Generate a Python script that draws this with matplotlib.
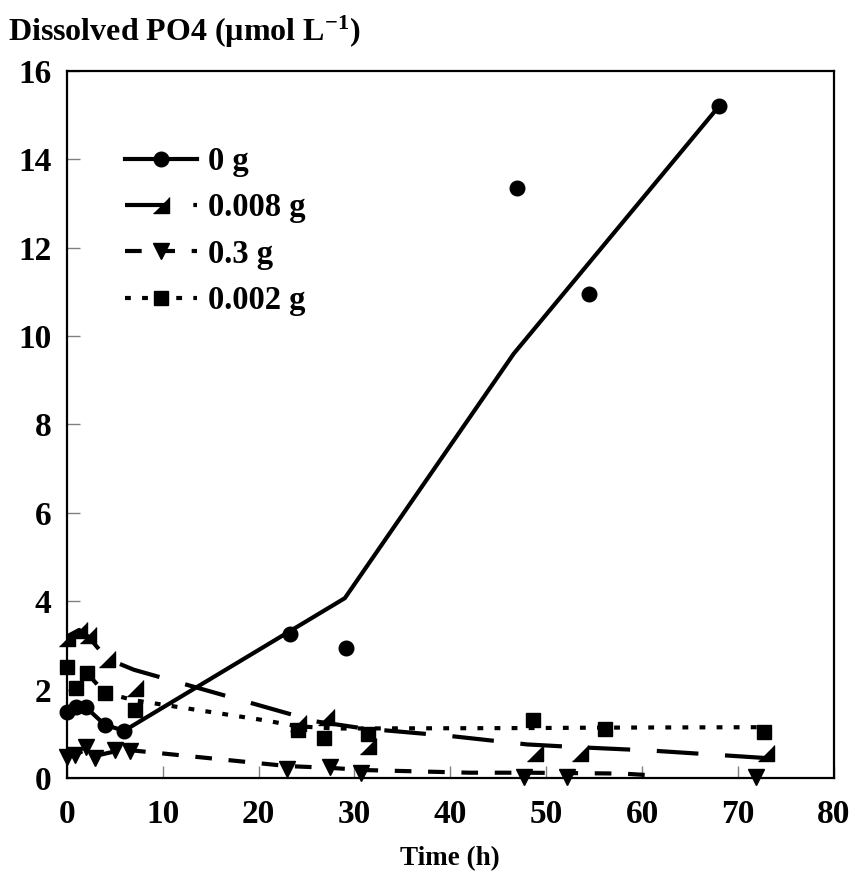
import matplotlib
matplotlib.use("Agg")
import matplotlib.pyplot as plt
from matplotlib.lines import Line2D

plt.rcParams['font.family'] = ['Liberation Serif', 'DejaVu Serif']
plt.rcParams['font.weight'] = 'bold'
plt.rcParams['mathtext.fontset'] = 'custom'
plt.rcParams['mathtext.rm'] = 'Liberation Serif:bold'
plt.rcParams['mathtext.bf'] = 'Liberation Serif:bold'
plt.rcParams['mathtext.default'] = 'rm'

# ---- data ----
series_labels = ["0 g", "0.008 g", "0.3 g", "0.002 g"]

# 0 g
t_0g = [0, 1, 2, 4, 6, 23.3, 29.1, 47, 54.5, 68]
p_0g = [1.5, 1.6, 1.6, 1.2, 1.07, 3.25, 2.95, 13.35, 10.95, 15.2]
line_t_0g = [0, 1, 2, 4, 6, 29.0, 46.6, 68]
line_p_0g = [1.5, 1.6, 1.6, 1.2, 1.07, 4.07, 9.6, 15.2]

# 0.008 g
t_008 = [0, 1.3, 2.25, 4.2, 7.1, 24.1, 27.0, 31.4, 48.8, 53.5, 72.9]
p_008 = [3.16, 3.35, 3.24, 2.69, 2.03, 1.24, 1.39, 0.72, 0.56, 0.56, 0.56]
line_t_008 = [0, 1.3, 2.25, 4.2, 7.0, 26.0, 31.0, 40.0, 48.0, 53.0, 61.0, 73.0]
line_p_008 = [3.2, 3.35, 3.2, 2.7, 2.45, 1.28, 1.12, 0.95, 0.76, 0.7, 0.62, 0.45]

# 0.3 g
t_03 = [0, 0.9, 2.0, 2.95, 5.0, 6.6, 23.0, 27.4, 30.7, 47.7, 52.2, 71.9]
p_03 = [0.48, 0.52, 0.71, 0.45, 0.63, 0.6, 0.2, 0.24, 0.12, 0.03, 0.03, 0.03]
line_t_03 = [0, 0.9, 2.0, 2.95, 5.0, 6.6, 23.0, 27.4, 31.0, 42.0, 48.0, 58.0, 61.0]
line_p_03 = [0.48, 0.52, 0.65, 0.5, 0.6, 0.63, 0.27, 0.23, 0.18, 0.12, 0.12, 0.1, 0.06]

# 0.002 g
t_002 = [0, 1.0, 2.1, 4.0, 7.1, 24.1, 26.8, 31.4, 48.6, 56.1, 72.7]
p_002 = [2.52, 2.03, 2.37, 1.93, 1.54, 1.09, 0.9, 1.0, 1.31, 1.1, 1.05]
line_t_002 = [0, 1.0, 2.1, 4.0, 7.0, 20.5, 24.1, 28.0, 48.0, 56.0, 72.7]
line_p_002 = [2.52, 2.03, 2.37, 1.93, 1.76, 1.31, 1.17, 1.12, 1.13, 1.14, 1.15]

x_ticks = [0, 10, 20, 30, 40, 50, 60, 70, 80]
y_ticks = [0, 2, 4, 6, 8, 10, 12, 14, 16]

# ---- figure ----
fig = plt.figure(figsize=(8.56, 8.8), dpi=100)
ax = fig.add_axes([66.7 / 856, 1 - 778 / 880, (834 - 66.7) / 856, (778 - 71) / 880])

tri = [(-1, -1), (1, -1), (1, 1)]
lw = 3
styles = [
    dict(ls='-', dashes=None, marker='o', ms=10.5),
    dict(ls='--', dashes=(10, 6.4), marker=tri, ms=12),
    dict(ls='--', dashes=(4, 4), marker='v', ms=11),
    dict(ls=':', dashes=(1.4, 2.7), marker='s', ms=10),
]
lines_xy = [(line_t_0g, line_p_0g), (line_t_008, line_p_008),
            (line_t_03, line_p_03), (line_t_002, line_p_002)]
pts_xy = [(t_0g, p_0g), (t_008, p_008), (t_03, p_03), (t_002, p_002)]

handles = []
for (lx, ly), (px, py), st, lab in zip(lines_xy, pts_xy, styles, series_labels):
    kw = dict(color='black', lw=lw, solid_capstyle='butt', dash_capstyle='butt')
    ln, = ax.plot(lx, ly, linestyle=st['ls'], **kw)
    if st['dashes'] is not None:
        ln.set_dashes(st['dashes'])
    ax.plot(px, py, linestyle='none', marker=st['marker'], ms=st['ms'],
            color='black', mec='black', clip_on=False, zorder=3)
    h = Line2D([], [], color='black', lw=lw, linestyle=st['ls'],
               marker=st['marker'], ms=st['ms'], dash_capstyle='butt')
    if st['dashes'] is not None:
        h.set_dashes(st['dashes'])
    handles.append(h)

ax.set_xlim(0, 80)
ax.set_ylim(0, 16)
ax.set_xticks(x_ticks)
ax.set_yticks(y_ticks)
ax.tick_params(axis='both', direction='in', length=9, width=1, color='#808080',
               labelsize=24)
ax.tick_params(axis='x', pad=15)
ax.tick_params(axis='y', pad=11)
for lab in ax.get_xticklabels() + ax.get_yticklabels():
    lab.set_fontweight('bold')
for sp in ax.spines.values():
    sp.set_linewidth(1.6)
    sp.set_color('black')

ax.set_xlabel('Time (h)', fontsize=19.5, fontweight='bold', labelpad=12)
fig.text(8 / 856, 1 - 32 / 880, r'Dissolved PO4 (µmol L$^{-1}$)', fontsize=23,
         fontweight='bold', va='center', ha='left')

leg = ax.legend(handles, series_labels, loc='upper left',
                bbox_to_anchor=((125 - 66.7) / 767.3, (778 - 146) / 707),
                frameon=False, fontsize=23.5, handlelength=2.2, handletextpad=0.35,
                labelspacing=0.47, borderpad=0, borderaxespad=0, numpoints=1)
for t in leg.get_texts():
    t.set_fontweight('bold')

fig.savefig('out.png', dpi=100)
